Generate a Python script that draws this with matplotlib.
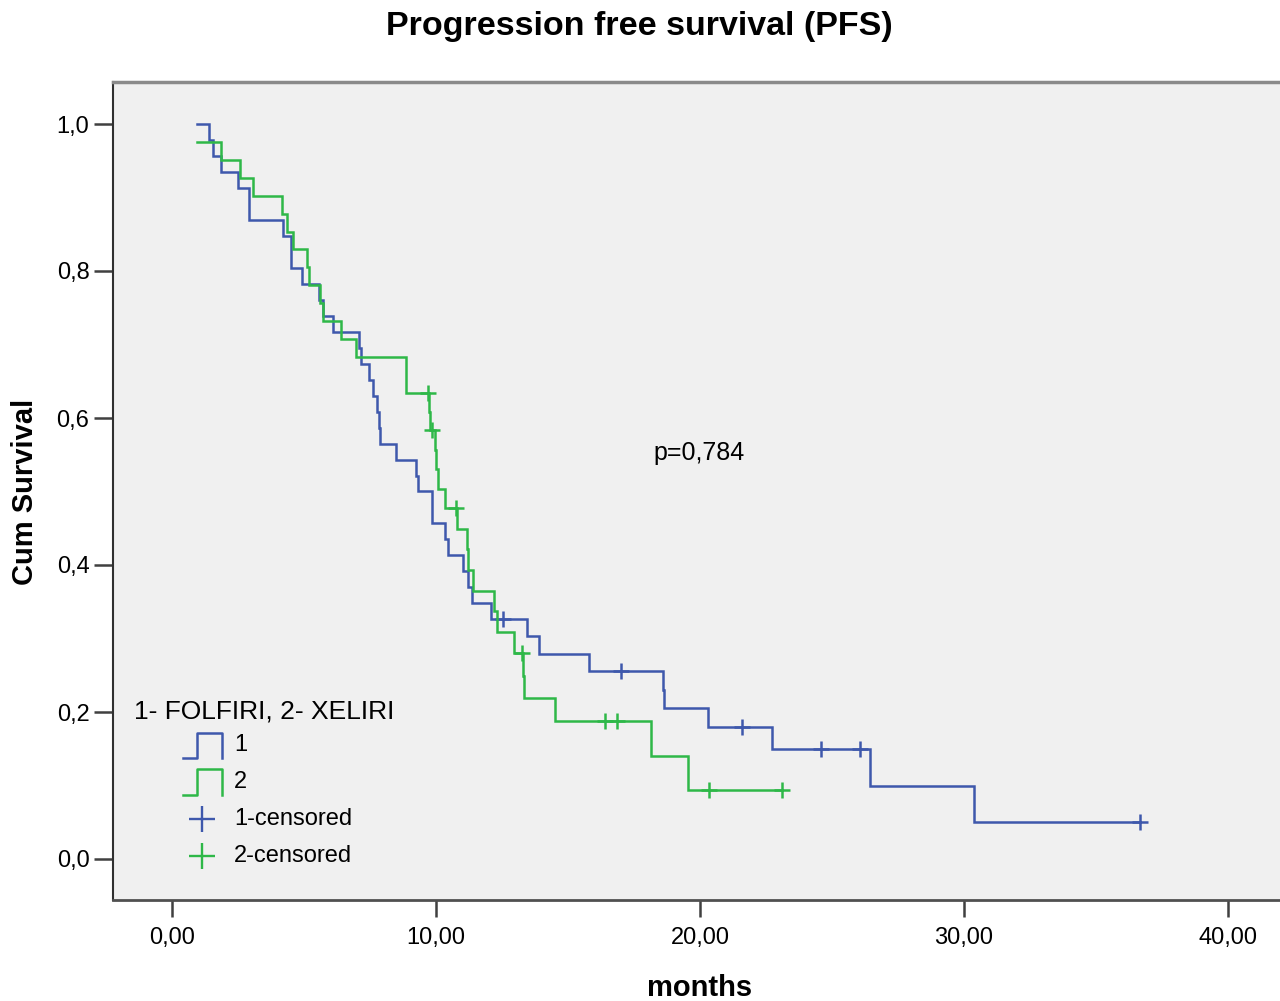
import numpy as np
import matplotlib
matplotlib.use("Agg")
import matplotlib.pyplot as plt

plt.rcParams['font.family'] = ['Liberation Sans', 'DejaVu Sans']

# ---- data (months) ----
folfiri_events = [1.40, 1.56, 1.84, 2.51, 2.92, 2.92, 4.22, 4.51, 4.51, 4.91,
                  5.58, 5.72, 6.11, 7.08, 7.15, 7.47, 7.60, 7.75, 7.84, 7.88,
                  8.47, 9.24, 9.33, 9.83, 9.83, 10.34, 10.45, 11.02, 11.22, 11.35,
                  12.07, 13.46, 13.90, 15.81, 18.61, 18.65, 20.29, 22.73, 26.44, 30.39]
folfiri_censored = [12.55, 17.00, 21.58, 24.60, 26.06, 36.67]

xeliri_events = [0.95, 1.84, 2.58, 3.06, 4.15, 4.37, 4.60, 5.10, 5.19, 5.61,
                 5.71, 6.42, 6.97, 8.85, 8.85, 9.73, 9.78, 9.96, 10.00, 10.07,
                 10.34, 10.80, 11.18, 11.22, 11.41, 12.20, 12.30, 12.95, 13.28, 13.32,
                 14.51, 18.13, 19.56]
xeliri_censored = [9.68, 9.83, 10.74, 13.25, 16.42, 16.84, 20.35, 23.10]

group_labels = ["1", "2"]
censor_labels = ["1-censored", "2-censored"]
legend_title = "1- FOLFIRI, 2- XELIRI"
x_ticks = [0, 10, 20, 30, 40]
x_ticklabels = ["0,00", "10,00", "20,00", "30,00", "40,00"]
y_ticks = [0.0, 0.2, 0.4, 0.6, 0.8, 1.0]
y_ticklabels = ["0,0", "0,2", "0,4", "0,6", "0,8", "1,0"]
p_text = "p=0,784"

BLUE = '#3E58AC'
GREEN = '#2EB848'


def km(events, censored, t0):
    events = np.asarray(events, float)
    censored = np.asarray(censored, float)
    allt = np.concatenate([events, censored])
    xs, ys = [t0], [1.0]
    s = 1.0
    for t in np.unique(events):
        at_risk = np.sum(allt >= t)
        d = np.sum(events == t)
        s *= (1 - d / at_risk)
        if t <= t0:
            ys[0] = s
        else:
            xs.append(t)
            ys.append(s)
    xs.append(allt.max())
    ys.append(s)
    xs, ys = np.array(xs), np.array(ys)

    def surv(t):
        idx = np.searchsorted(xs, t, side='right') - 1
        return ys[idx]
    cy = np.array([surv(c) for c in censored])
    return xs, ys, censored, cy


W, H = 1280, 1001
fig = plt.figure(figsize=(W / 100, H / 100), dpi=100)


def fx(px):
    return px / W


def fy(py):
    return 1 - py / H


ax = fig.add_axes([fx(113), fy(900), fx(1283) - fx(113), fy(82) - fy(900)])
ax.set_facecolor('#F0F0F0')

t0 = min(min(folfiri_events), min(xeliri_events))
for ev, ce, col in [(folfiri_events, folfiri_censored, BLUE),
                    (xeliri_events, xeliri_censored, GREEN)]:
    xs, ys, cx, cy = km(ev, ce, t0)
    ax.step(xs, ys, where='post', color=col, lw=1.8, solid_joinstyle='miter')
    ax.plot(cx, cy, ls='none', marker='+', ms=11, mew=1.8, color=col)

ax.set_xlim((113 - 172) / 26.4, (1283 - 172) / 26.4)
ax.set_ylim((859 - 900) / 735, (859 - 82) / 735)

ax.set_xticks(x_ticks)
ax.set_xticklabels(x_ticklabels, fontsize=17)
ax.set_yticks(y_ticks)
ax.set_yticklabels(y_ticklabels, fontsize=17)
ax.tick_params(axis='y', direction='out', length=14, width=1.8, color='#404040', pad=3)
ax.tick_params(axis='x', direction='out', length=12.5, width=1.8, color='#404040', pad=7)

ax.spines['right'].set_visible(False)
ax.spines['top'].set_color('#8A8A8A')
ax.spines['top'].set_linewidth(2.5)
ax.spines['bottom'].set_color('#505050')
ax.spines['bottom'].set_linewidth(2)
ax.spines['left'].set_color('#303030')
ax.spines['left'].set_linewidth(1.5)

fig.text(fx(639), fy(27), "Progression free survival (PFS)", fontsize=24.5,
         fontweight='bold', ha='center', va='center')
fig.text(fx(700), fy(988), "months", fontsize=21, fontweight='bold',
         ha='center', va='center')
fig.text(fx(25), fy(492), "Cum Survival", fontsize=21, fontweight='bold',
         ha='center', va='center', rotation=90)
fig.text(fx(699), fy(453), p_text, fontsize=18, ha='center', va='center')

# legend (drawn manually)
fig.text(fx(134), fy(711), legend_title, fontsize=19, ha='left', va='center')
for i, (lab, col) in enumerate(zip(group_labels, [BLUE, GREEN])):
    top = 733 + i * 36
    bot = 758 + i * 37
    xs_icon = [fx(183), fx(197), fx(197), fx(222), fx(222)]
    ys_icon = [fy(bot), fy(bot), fy(top), fy(top), fy(bot)]
    fig.add_artist(plt.Line2D(xs_icon, ys_icon, color=col, lw=1.8,
                              transform=fig.transFigure))
    fig.text(fx(234), fy(745 + i * 36.5), lab, fontsize=17, ha='left', va='center')
for i, (lab, col) in enumerate(zip(censor_labels, [BLUE, GREEN])):
    yy = 819 + i * 37
    fig.add_artist(plt.Line2D([fx(202)], [fy(yy)], ls='none', marker='+', ms=19,
                              mew=1.7, color=col, transform=fig.transFigure))
    fig.text(fx(234), fy(yy), lab, fontsize=17, ha='left', va='center')

fig.savefig('out.png', dpi=100, facecolor='white')
